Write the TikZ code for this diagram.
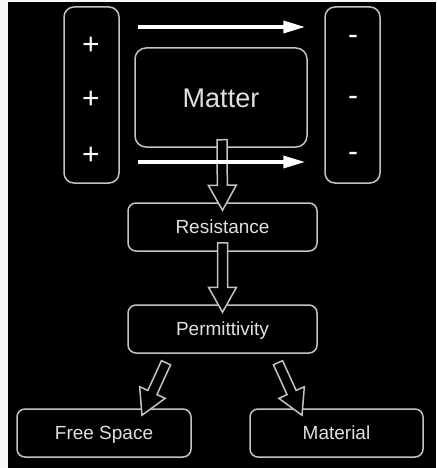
\documentclass[tikz,border=0pt]{standalone}
\usepackage{fontspec}
\setmainfont{Liberation Sans}
\usetikzlibrary{calc,arrows.meta}
\definecolor{boxgray}{HTML}{C4C4C4}
\definecolor{txtgray}{HTML}{E0E0E0}
\newcommand\hollowarr[2]{%
 \draw[harrow] ($(#1)!5pt!90:(#2)$) -- ($(#2)!25pt!(#1)!5pt!-90:(#1)$) -- ($(#2)!25pt!(#1)!14pt!-90:(#1)$) -- (#2) -- ($(#2)!25pt!(#1)!14pt!90:(#1)$) -- ($(#2)!25pt!(#1)!5pt!90:(#1)$) -- ($(#1)!5pt!-90:(#2)$) -- cycle;}
\begin{document}
\begin{tikzpicture}[x=1pt,y=-1pt,
 box/.style={draw=boxgray, line width=1.5pt, rounded corners=8pt, text=txtgray, inner sep=0pt, text height=13.6pt, text depth=0pt, font=\fontsize{19}{22}\selectfont},
 sign/.style={text=white, inner sep=0pt, font=\fontsize{30}{34}\selectfont, anchor=base},
 harrow/.style={draw=boxgray, line width=1.5pt, fill=black, line join=miter},
 warrow/.style={draw=white, line width=3.5pt, -{Triangle[length=22pt,width=12pt]}}]
\useasboundingbox (0,0) rectangle (436,468);
\fill[white!94!gray] (0,0) rectangle (436,468);
\fill[black] (8,2) rectangle (436,468);
% boxes
\node[box, minimum width=55pt, minimum height=176pt, rounded corners=10pt] (plus) at (91.5,95) {};
\node[box, minimum width=55pt, minimum height=176pt, rounded corners=10pt] (minus) at (352.5,95) {};
\node[box, minimum width=172pt, minimum height=99pt, rounded corners=11pt, text height=19.3pt, font=\fontsize{27}{30}\selectfont] (matter) at (221,97.5) {Matter};
\node[box, minimum width=189pt, minimum height=48pt] (resist) at (222.5,227) {Resistance};
\node[box, minimum width=189pt, minimum height=48pt] (perm) at (222.5,329) {Permittivity};
\node[box, minimum width=174pt, minimum height=48pt] (free) at (104,433) {Free Space};
\node[box, minimum width=173pt, minimum height=48pt] (mat) at (336.5,433) {Material};
% signs
\node[sign] (p1) at (91,55) {+};
\node[sign] (p2) at (91,109) {+};
\node[sign] (p3) at (91,164) {+};
\node[sign] (m1) at (353,45) {-};
\node[sign] (m2) at (353,106) {-};
\node[sign] (m3) at (353,161) {-};
% hollow arrows
\coordinate (h1a) at ($(matter.south)+(1,-8)$);
\coordinate (h1b) at ($(resist.north)+(0,8)$);
\coordinate (h2a) at ($(resist.south)+(0,-9)$);
\coordinate (h2b) at ($(perm.north)+(0,8)$);
\coordinate (h3a) at ($(perm.south)+(-56.5,9)$);
\coordinate (h3b) at ($(free.north)+(38,7)$);
\coordinate (h4a) at ($(perm.south)+(55.5,9)$);
\coordinate (h4b) at ($(mat.north)+(-34.5,7)$);
\hollowarr{h1a}{h1b}
\hollowarr{h2a}{h2b}
\hollowarr{h3a}{h3b}
\hollowarr{h4a}{h4b}
% white arrows
\coordinate (t1a) at ($(plus.east)+(18,-68)$);
\coordinate (t1b) at ($(minus.west)+(-19,-68)$);
\coordinate (t2a) at ($(plus.east)+(18,67)$);
\coordinate (t2b) at ($(minus.west)+(-19,67)$);
\draw[warrow] (t1a) -- (t1b);
\draw[warrow] (t2a) -- (t2b);
\end{tikzpicture}
\end{document}
